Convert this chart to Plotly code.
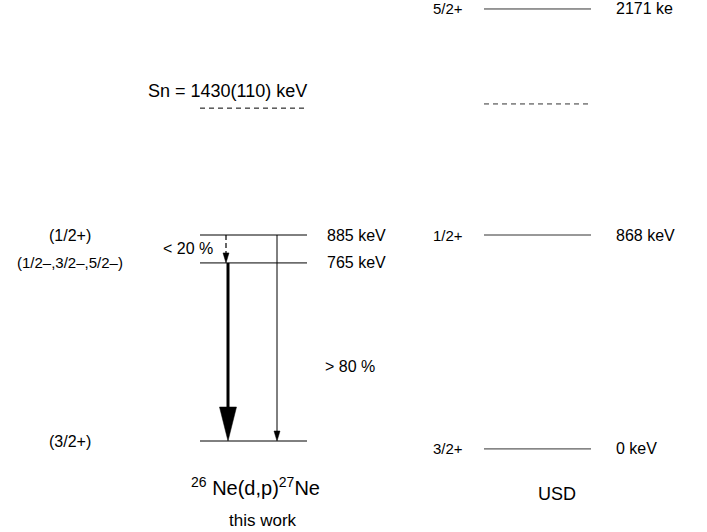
import plotly.graph_objects as go

# ---- 27Ne level scheme data ----
# this work: 26Ne(d,p)27Ne
exp_energy = [0, 765, 885]                      # keV
exp_spin = ["(3/2+)", "(1/2\u2013,3/2\u2013,5/2\u2013)", "(1/2+)"]
exp_label = ["", "765 keV", "885 keV"]
sn_energy = 1430
sn_label = "Sn = 1430(110) keV"

# gamma branches: (from keV, to keV, label)
branch_from = [765, 885, 885]
branch_to = [0, 765, 0]
branch_text = ["", "< 20 %", "> 80 %"]

# USD shell-model levels (drawn on a compressed vertical scale)
usd_energy = [0, 868, 2171]
usd_spin = ["3/2+", "1/2+", "5/2+"]
usd_label = ["0 keV", "868 keV", "2171 ke"]
usd_plot_y = [-34, 885, 1856]                   # vertical position in the diagram
usd_sn_plot_y = 1448

# ---- geometry / style ----
W, H = 707, 532
k = 206 / 885                                   # pixels per keV
y_top = 441 / k
y_bot = -(H - 441) / k

EXP_X0, EXP_X1 = 200, 307
USD_X0, USD_X1 = 484, 591
font = "Liberation Sans, Arial, Helvetica, sans-serif"

fig = go.Figure()


def hline(x0, x1, y, dash="solid", width=1, color="black"):
    fig.add_trace(go.Scatter(x=[x0, x1], y=[y, y], mode="lines",
                             line=dict(color=color, width=width, dash=dash),
                             hoverinfo="skip", showlegend=False))


def arrow(x, y_from, y_to, width, head_len_px, head_half_px, dash="solid"):
    head = head_len_px / k
    fig.add_trace(go.Scatter(x=[x, x], y=[y_from, y_to + head * 0.5], mode="lines",
                             line=dict(color="black", width=width, dash=dash),
                             hoverinfo="skip", showlegend=False))
    fig.add_trace(go.Scatter(x=[x - head_half_px, x + head_half_px, x, x - head_half_px],
                             y=[y_to + head, y_to + head, y_to, y_to + head],
                             mode="lines", fill="toself", fillcolor="black",
                             line=dict(color="black", width=0.5),
                             hoverinfo="skip", showlegend=False))


# experimental levels
for e in exp_energy:
    hline(EXP_X0, EXP_X1, e)
hline(EXP_X0, EXP_X1, sn_energy, dash="5px,4px")

# USD levels
for y in usd_plot_y:
    hline(USD_X0, USD_X1, y, color="#333")
hline(USD_X0, USD_X1, usd_sn_plot_y, dash="5px,4px", color="#333")

# gamma transitions
arrow(228, branch_from[0], branch_to[0], 3, 34, 8.5)
arrow(226, branch_from[1], branch_to[1], 1.2, 10, 3, dash="5px,3px")
arrow(277, branch_from[2], branch_to[2], 1, 10, 3)

ann = []


def text(x, y, s, size=16, anchor="center", yshift=0):
    ann.append(dict(x=x, y=y, xref="x", yref="y", text=s, showarrow=False,
                    xanchor=anchor, yanchor="middle", yshift=yshift,
                    font=dict(family=font, size=size, color="black")))


spin_sizes = [16, 15, 16]
for e, s, lab, fs in zip(exp_energy, exp_spin, exp_label, spin_sizes):
    text(70, e, s, size=fs)
    if lab:
        text(325, e, lab, anchor="left")
text(227, sn_energy, sn_label, size=18, yshift=17)

text(215, (branch_from[1] + branch_to[1]) / 2, branch_text[1], anchor="right")
text(323, 322, branch_text[2], anchor="left")

for y, lab, s in zip(usd_plot_y, usd_label, usd_spin):
    text(431, y, s, size=15, anchor="left")
    text(614, y, lab, anchor="left")

text(255, 0, "<sup>26</sup> Ne(d,p)<sup>27</sup>Ne", size=20, yshift=-45)
text(263, 0, "this work", size=17, yshift=-79)
text(557, usd_plot_y[0], "USD", size=18, yshift=-45)

fig.update_layout(
    width=W, height=H, margin=dict(l=0, r=0, t=0, b=0),
    paper_bgcolor="white", plot_bgcolor="white",
    xaxis=dict(range=[0, W], visible=False, fixedrange=True),
    yaxis=dict(range=[y_bot, y_top], visible=False, fixedrange=True),
    annotations=ann, showlegend=False,
)
fig.write_html("out.html")
